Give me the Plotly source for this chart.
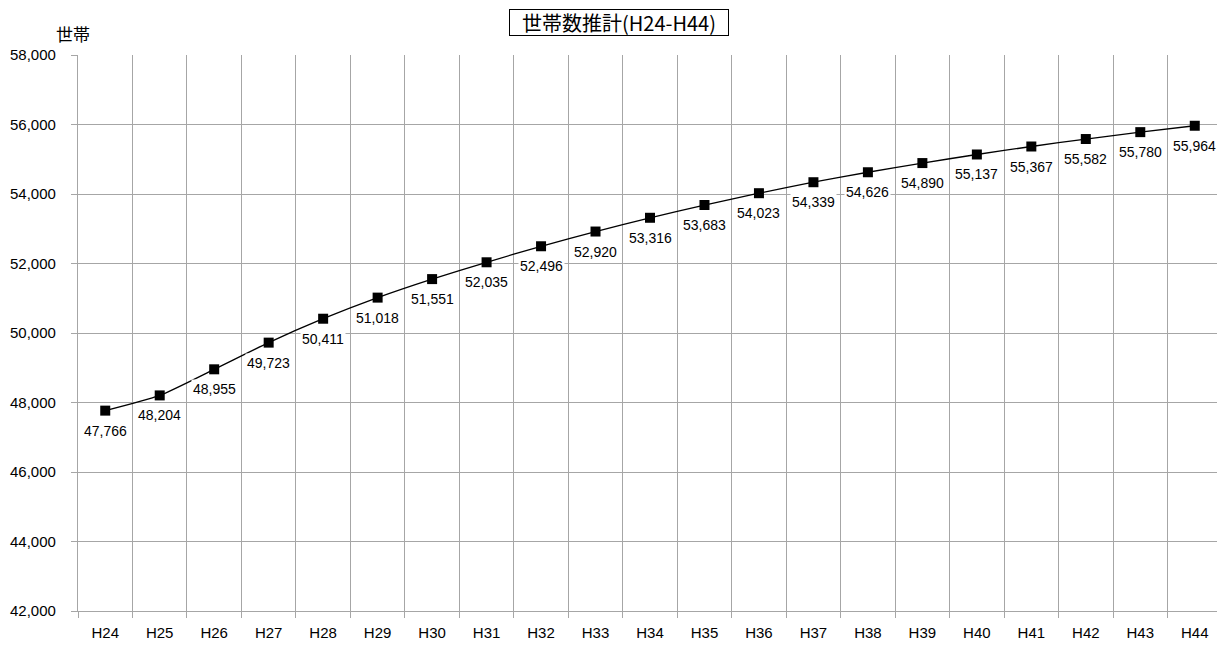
import plotly.graph_objects as go

years = ["H24","H25","H26","H27","H28","H29","H30","H31","H32","H33","H34",
         "H35","H36","H37","H38","H39","H40","H41","H42","H43","H44"]
households = [47766, 48204, 48955, 49723, 50411, 51018, 51551, 52035, 52496, 52920,
              53316, 53683, 54023, 54339, 54626, 54890, 55137, 55367, 55582, 55780, 55964]
y_ticks = [42000, 44000, 46000, 48000, 50000, 52000, 54000, 56000, 58000]

FONT = "Liberation Sans, Noto Sans CJK JP, sans-serif"
JFONT = "Noto Sans CJK JP, sans-serif"
GRID = "#a6a6a6"

fig = go.Figure()
fig.add_trace(go.Scatter(
    x=years, y=households, mode="lines+markers",
    line=dict(color="black", width=1.3, shape="spline", smoothing=0.6),
    marker=dict(symbol="square", size=10, color="black"),
    showlegend=False, hoverinfo="skip",
))

annotations = []
for x, v in zip(years, households):
    annotations.append(dict(
        x=x, y=v, xref="x", yref="y", text=f"{v:,}", showarrow=False,
        yshift=-20, bgcolor="white", borderpad=1,
        font=dict(family=FONT, size=14, color="black"),
    ))

annotations.append(dict(
    xref="paper", yref="paper", x=0.473, y=1.0, yshift=33, yanchor="middle",
    text="世帯数推計(H24-H44)", showarrow=False,
    width=218, height=25,
    bordercolor="black", borderwidth=1, borderpad=0, bgcolor="white",
    font=dict(family=JFONT, size=20, color="black"),
))
annotations.append(dict(
    xref="paper", yref="paper", x=-0.021, y=1.0, yshift=22, yanchor="middle",
    text="世帯", showarrow=False,
    font=dict(family=JFONT, size=17, color="black"),
))

fig.update_layout(
    width=1217, height=640,
    margin=dict(l=70, r=3, t=47, b=37, autoexpand=False),
    paper_bgcolor="white", plot_bgcolor="white",
    annotations=annotations,
    font=dict(family=FONT, size=15, color="black"),
)
fig.update_xaxes(
    type="category", categoryorder="array", categoryarray=years,
    tickson="boundaries", showgrid=True, gridcolor=GRID, gridwidth=1.3,
    ticks="outside", ticklen=6, tickcolor=GRID, tickwidth=1.3,
    showline=True, linecolor=GRID, linewidth=1.3, automargin=False,
    tickfont=dict(family=FONT, size=15), range=[-0.5, 20.5],
    ticklabelstandoff=8,
)
fig.update_yaxes(
    range=[42000, 58000], tickvals=y_ticks, tickformat=",",
    showgrid=True, gridcolor=GRID, gridwidth=1.3,
    ticks="outside", ticklen=6, tickcolor=GRID, tickwidth=1.3,
    showline=True, linecolor=GRID, linewidth=1.3, automargin=False,
    tickfont=dict(family=FONT, size=15), zeroline=False,
    ticklabelstandoff=12,
)

fig.write_html("out.html")
